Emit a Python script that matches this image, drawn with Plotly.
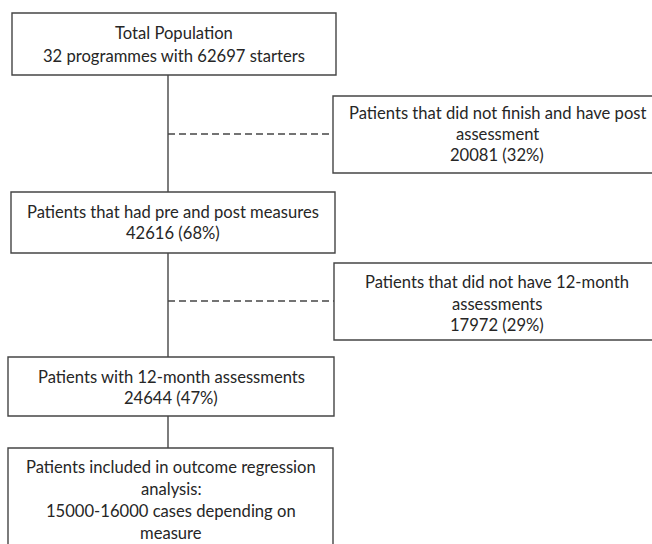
import plotly.graph_objects as go

W, H = 652, 544

# Flowchart content
box_names = ["total", "not_finish", "pre_post", "no_12m", "with_12m", "included"]
box_lines = [
    ["Total Population", "32 programmes with 62697 starters"],
    ["Patients that did not finish and have post", "assessment", "20081 (32%)"],
    ["Patients that had pre and post measures", "42616 (68%)"],
    ["Patients that did not have 12-month", "assessments", "17972 (29%)"],
    ["Patients with 12-month assessments", "24644 (47%)"],
    ["Patients included in outcome regression", "analysis:", "15000-16000 cases depending on", "measure"],
]

# Layout geometry (pixels)
box_x0 = [12, 333, 11, 334, 8, 8]
box_x1 = [336, 662, 335, 662, 334, 333]
box_y0 = [13, 96, 192, 263, 357, 448]
box_y1 = [75, 173, 253, 340, 416, 560]
text_cx = [174, 497, 173, 497, 171, 171]
text_y0 = [33, 113, 212, 282, 377, 467]
line_gap = [23, 21, 21, 21.5, 21, 22]

spine_x = 168
dash_y = [134, 301]
dash_targets = [1, 3]

line_col = "#454545"
text_col = "#262626"
font_family = "Lato, 'Open Sans', sans-serif"
font_size = 16.6

fig = go.Figure()
shapes = []
annotations = []

for i in range(len(box_names)):
    shapes.append(dict(type="rect", xref="x", yref="y",
                       x0=box_x0[i], x1=box_x1[i], y0=box_y0[i], y1=box_y1[i],
                       line=dict(color=line_col, width=1.4), fillcolor="white", layer="above"))
    for j, txt in enumerate(box_lines[i]):
        annotations.append(dict(x=text_cx[i], y=text_y0[i] + j * line_gap[i], xref="x", yref="y",
                                text=txt, showarrow=False, xanchor="center", yanchor="middle",
                                font=dict(family=font_family, size=font_size, color=text_col)))

# vertical connectors between main boxes
main = [0, 2, 4, 5]
for a, b in zip(main[:-1], main[1:]):
    shapes.append(dict(type="line", xref="x", yref="y",
                       x0=spine_x, x1=spine_x, y0=box_y1[a], y1=box_y0[b],
                       line=dict(color=line_col, width=1.4), layer="below"))

# dashed branches
for y, t in zip(dash_y, dash_targets):
    shapes.append(dict(type="line", xref="x", yref="y",
                       x0=spine_x, x1=box_x0[t], y0=y, y1=y,
                       line=dict(color=line_col, width=1.4, dash="7px,4px"), layer="below"))

fig.update_layout(
    width=W, height=H,
    margin=dict(l=0, r=0, t=0, b=0),
    paper_bgcolor="white", plot_bgcolor="white",
    shapes=shapes, annotations=annotations,
    showlegend=False,
    xaxis=dict(range=[0, W], visible=False, fixedrange=True),
    yaxis=dict(range=[H, 0], visible=False, fixedrange=True),
)

fig.write_html(
    "out.html",
    config={"displayModeBar": False},
    post_script="document.body.style.margin='0';document.body.style.overflow='hidden';",
)
